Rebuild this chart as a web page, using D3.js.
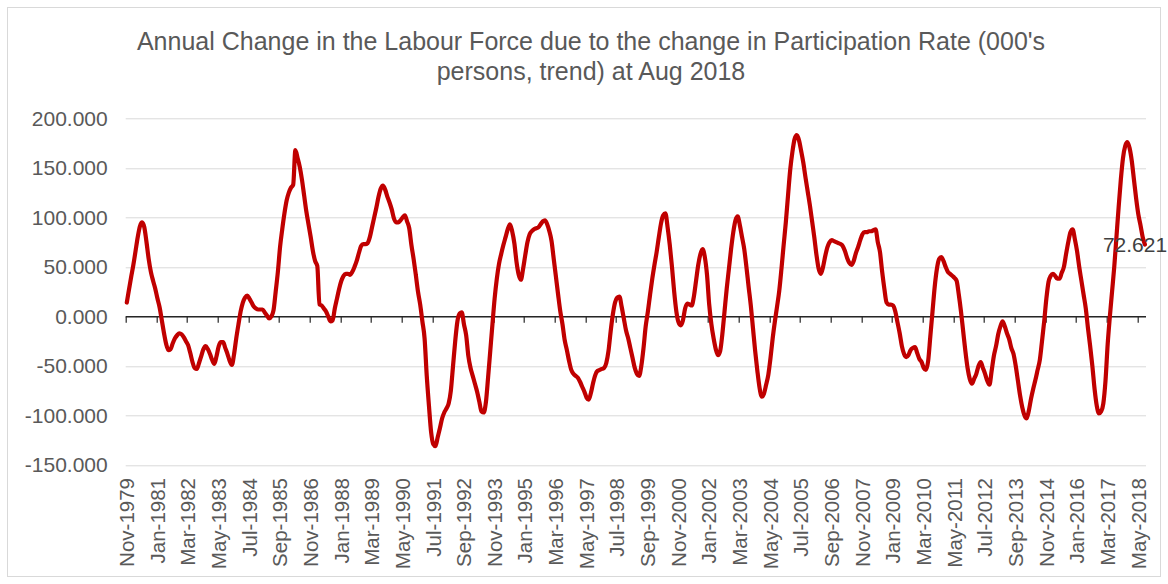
<!DOCTYPE html>
<html>
<head>
<meta charset="utf-8">
<script src="https://cdn.jsdelivr.net/npm/d3@7"></script>
<style>
  body { margin: 0; background: #fff; }
  text { font-family: "Liberation Sans", Arial, sans-serif; }
</style>
</head>
<body>
<div class="line-chart"></div>
<script>
//Chart text.
var titleLines = [
  "Annual Change in the Labour Force due to the change in Participation Rate (000's",
  "persons, trend) at Aug 2018"
];

//Month names used to build the monthly categories, starting at Nov-1979.
var monthNames = ["Jan", "Feb", "Mar", "Apr", "May", "Jun", "Jul", "Aug", "Sep", "Oct", "Nov", "Dec"];
var startYear = 1979;
var startMonth = 10;

//Annual change due to participation rate (000's), one value per month.
var values = [
  14, 27,                                                  // 1979 Nov-Dec
  40, 52, 66, 80, 91, 95, 90, 75, 58, 45, 36, 28,          // 1980
  18, 9, -4, -17, -28, -34, -33, -27, -22, -19, -17, -18,  // 1981
  -21, -25, -29, -37, -46, -52, -53, -47, -40, -33, -30, -33, // 1982
  -38, -44, -48, -40, -30, -26, -26, -32, -38, -45, -49, -38, // 1983
  -22, -8, 5, 14, 19, 21, 18, 14, 10, 8, 7, 7,             // 1984
  7, 4, 1, -2, 0, 6, 25, 45, 70, 88, 104, 117,             // 1985
  125, 130, 133, 168, 160, 151, 138, 122, 106, 93, 80, 66, // 1986
  56, 51, 12, 11, 8, 5, 0, -5, -4, 8, 18, 28,              // 1987
  36, 41, 43, 43, 42, 45, 50, 56, 64, 71, 73, 73,          // 1988
  74, 80, 90, 100, 110, 121, 129, 132, 128, 121, 115, 108, // 1989
  99, 95, 95, 97, 100, 102, 96, 89, 72, 58, 42, 25,        // 1990
  12, -5, -22, -60, -90, -117, -129, -131, -122, -113, -103, -97, // 1991
  -93, -88, -75, -50, -25, -5, 3, 4, -8, -19, -40, -52,    // 1992
  -60, -68, -76, -86, -96, -97, -87, -62, -35, -8, 18, 38, // 1993
  53, 63, 72, 80, 88, 93, 86, 74, 55, 42, 37, 48,          // 1994
  62, 75, 83, 86, 88, 89, 90, 93, 96, 97, 93, 86,          // 1995
  76, 58, 40, 22, 5, -8, -24, -34, -45, -54, -58, -60,     // 1996
  -62, -66, -71, -76, -82, -84, -77, -67, -59, -55, -54, -53, // 1997
  -52, -47, -35, -15, 2, 14, 19, 20, 10, -2, -14, -22,     // 1998
  -32, -42, -52, -58, -60, -50, -32, -10, 5, 22, 38, 52,   // 1999
  65, 80, 94, 102, 104, 90, 72, 50, 25, 5, -6, -9,         // 2000
  -4, 8, 13, 12, 11, 20, 36, 52, 63, 68, 60, 42,           // 2001
  12, -8, -22, -33, -39, -35, -18, 5, 28, 48, 68, 85,      // 2002
  97, 101, 92, 80, 68, 50, 30, 11, -12, -35, -55, -72,     // 2003
  -81, -78, -69, -59, -42, -22, -5, 10, 26, 48, 72, 95,    // 2004
  122, 148, 166, 179, 183, 178, 167, 155, 140, 126, 112, 96, // 2005
  80, 62, 48, 43, 50, 61, 70, 75, 77, 76, 75, 74,          // 2006
  73, 71, 66, 59, 54, 52, 56, 64, 70, 77, 83, 85,          // 2007
  85, 86, 86, 87, 88, 75, 65, 45, 28, 14, 12, 12,          // 2008
  11, 5, -6, -17, -30, -38, -41, -39, -34, -32, -31, -37,  // 2009
  -43, -46, -52, -54, -45, -20, 5, 30, 48, 58, 60, 56,     // 2010
  50, 45, 43, 41, 39, 36, 22, 5, -15, -35, -52, -63,       // 2011
  -68, -63, -58, -50, -46, -52, -58, -65, -69, -55, -40, -30, // 2012
  -18, -10, -5, -10, -17, -23, -32, -38, -50, -65, -80, -92, // 2013
  -100, -103, -95, -83, -73, -64, -54, -44, -25, -5, 18, 35, // 2014
  41, 43, 41, 38, 38, 44, 50, 63, 75, 85, 88, 78,          // 2015
  66, 50, 36, 22, 8, -12, -30, -50, -73, -90, -98, -96,    // 2016
  -88, -65, -28, 0, 25, 50, 80, 110, 138, 160, 172, 176,   // 2017
  170, 157, 138, 119, 103, 92, 80, 72.621                  // 2018 Jan-Aug
];

//Category axis labels (every 14th month).
var tickLabels = [
  "Nov-1979", "Jan-1981", "Mar-1982", "May-1983", "Jul-1984", "Sep-1985", "Nov-1986",
  "Jan-1988", "Mar-1989", "May-1990", "Jul-1991", "Sep-1992", "Nov-1993", "Jan-1995",
  "Mar-1996", "May-1997", "Jul-1998", "Sep-1999", "Nov-2000", "Jan-2002", "Mar-2003",
  "May-2004", "Jul-2005", "Sep-2006", "Nov-2007", "Jan-2009", "Mar-2010", "May-2011",
  "Jul-2012", "Sep-2013", "Nov-2014", "Jan-2016", "Mar-2017", "May-2018"
];

//Value axis ticks.
var yTicks = [200, 150, 100, 50, 0, -50, -100, -150];

//Build the month categories.
var categories = values.map(function(v, i) {
  var m = startMonth + i;
  return monthNames[m % 12] + "-" + (startYear + Math.floor(m / 12));
});
var data = values.map(function(v, i) {
  return { month: categories[i], value: v };
});

//Number format with a plain hyphen for negatives, as in the source chart.
var fmt = function(v) { return d3.format(".3f")(v).replace("\u2212", "-"); };

//SVG area and margins.
var svgWidth = 1168;
var svgHeight = 584;
var margin = { top: 118.3, right: 22, bottom: 119, left: 125.7 };
var chartWidth = svgWidth - margin.left - margin.right;
var chartHeight = svgHeight - margin.top - margin.bottom;

var root = d3.select(".line-chart")
  .append("svg")
  .attr("width", svgWidth)
  .attr("height", svgHeight);

//Chart frame.
root.append("rect")
  .attr("x", 7.5)
  .attr("y", 7.5)
  .attr("width", svgWidth - 15)
  .attr("height", svgHeight - 15)
  .attr("fill", "#fff")
  .attr("stroke", "#d9d9d9");

//Title.
root.append("g")
  .selectAll("text")
  .data(titleLines)
  .enter().append("text")
    .attr("x", 591)
    .attr("y", function(d, i) { return 50 + i * 30; })
    .attr("text-anchor", "middle")
    .attr("font-size", "25px")
    .attr("fill", "#595959")
    .text(function(d) { return d; });

var chart = root.append("g")
  .attr("transform", "translate(" + margin.left + "," + margin.top + ")");

//Scales.
var xScale = d3.scaleBand()
  .domain(categories)
  .range([0, chartWidth]);

var yScale = d3.scaleLinear()
  .domain([-150, 200])
  .range([chartHeight, 0]);

var bw = xScale.bandwidth();

//Gridlines.
chart.append("g")
  .selectAll("line")
  .data(yTicks)
  .enter().append("line")
    .attr("x1", 0)
    .attr("x2", chartWidth)
    .attr("y1", function(d) { return Math.round(yScale(d)) + 0.5; })
    .attr("y2", function(d) { return Math.round(yScale(d)) + 0.5; })
    .attr("stroke", "#d9d9d9")
    .attr("stroke-width", 1);

//Value axis labels.
chart.append("g")
  .selectAll("text")
  .data(yTicks)
  .enter().append("text")
    .attr("x", -18)
    .attr("y", function(d) { return yScale(d); })
    .attr("dy", "0.35em")
    .attr("text-anchor", "end")
    .attr("font-size", "21px")
    .attr("fill", "#595959")
    .text(fmt);

//Horizontal axis line crossing at zero, with tick marks.
var y0 = Math.round(yScale(0)) + 0.5;
chart.append("line")
  .attr("x1", 0)
  .attr("x2", chartWidth)
  .attr("y1", y0)
  .attr("y2", y0)
  .attr("stroke", "#262626")
  .attr("stroke-width", 1.5);

chart.append("g")
  .selectAll("line")
  .data(tickLabels)
  .enter().append("line")
    .attr("x1", function(d) { return Math.round(xScale(d)) + 0.5; })
    .attr("x2", function(d) { return Math.round(xScale(d)) + 0.5; })
    .attr("y1", y0)
    .attr("y2", y0 + 6)
    .attr("stroke", "#262626")
    .attr("stroke-width", 1.2);

//Category labels, placed low under the plot.
chart.append("g")
  .selectAll("text")
  .data(tickLabels)
  .enter().append("text")
    .attr("transform", function(d) {
      return "translate(" + (xScale(d) + bw / 2) + "," + (chartHeight + 13) + ") rotate(-90)";
    })
    .attr("dy", "0.35em")
    .attr("text-anchor", "end")
    .attr("font-size", "20.5px")
    .attr("fill", "#595959")
    .text(function(d) { return d; });

//The series line.
var line = d3.line()
  .x(function(d) { return xScale(d.month) + bw / 2; })
  .y(function(d) { return yScale(d.value); })
  .curve(d3.curveMonotoneX);

chart.append("path")
  .datum(data)
  .attr("d", line)
  .attr("fill", "none")
  .attr("stroke", "#c00000")
  .attr("stroke-width", 4.2)
  .attr("stroke-linejoin", "round")
  .attr("stroke-linecap", "round");

//Label on the last point.
var last = data[data.length - 1];
chart.append("text")
  .attr("x", xScale(last.month) + bw / 2 - 42)
  .attr("y", yScale(last.value))
  .attr("dy", "0.35em")
  .attr("font-size", "21px")
  .attr("fill", "#404040")
  .text(fmt(last.value));
</script>
</body>
</html>
